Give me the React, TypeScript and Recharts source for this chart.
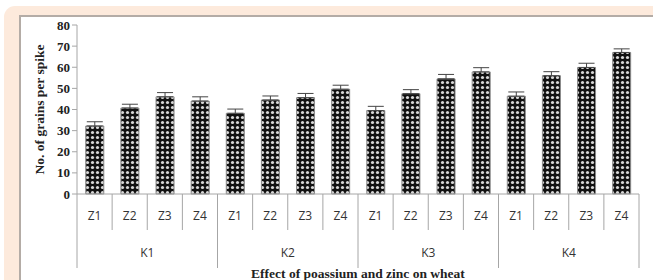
import { BarChart, Bar, XAxis, YAxis, ErrorBar, Label } from "recharts";

const zLevels = ["Z1", "Z2", "Z3", "Z4", "Z1", "Z2", "Z3", "Z4", "Z1", "Z2", "Z3", "Z4", "Z1", "Z2", "Z3", "Z4"];
const kLevels = ["K1", "K1", "K1", "K1", "K2", "K2", "K2", "K2", "K3", "K3", "K3", "K3", "K4", "K4", "K4", "K4"];
const grains = [32.2, 40.7, 46, 44, 38.2, 44.5, 45.6, 49.6, 39.5, 47.5, 54.5, 57.8, 46.3, 56, 59.9, 67];
const errors = [2, 1.8, 2, 2, 2, 1.9, 2, 1.9, 2, 1.9, 2.1, 2, 2, 1.9, 2, 1.7];
const yTicks = [0, 10, 20, 30, 40, 50, 60, 70, 80];

const data = zLevels.map((z, i) => ({
  z,
  k: kLevels[i],
  value: grains[i],
  err: [0, errors[i]],
}));

const W = 653;
const H = 280;
const PLOT_LEFT = 77;
const PLOT_RIGHT = 639;
const AXIS_Y = 194;
const HALF = (PLOT_RIGHT - PLOT_LEFT) / zLevels.length / 2;
const LINE = "#a6a6a6";

// draws the Z label plus the category / group divider lines
const ZTick = (props: any) => {
  const { x, payload, index } = props;
  const top = AXIS_Y;
  const rightLen = (index + 1) % 4 === 0 ? 74 : 36;
  return (
    <g>
      {index === 0 && <line x1={x - HALF} y1={top} x2={x - HALF} y2={top + 74} stroke={LINE} />}
      <line x1={x + HALF} y1={top} x2={x + HALF} y2={top + rightLen} stroke={LINE} />
      <text x={x} y={top + 26} textAnchor="middle" fontFamily="'Open Sans', sans-serif" fontSize={12} fill="#333">
        {payload.value}
      </text>
    </g>
  );
};

const KTick = (props: any) => {
  const { x, payload, index } = props;
  if (index % 4 !== 1) return null;
  return (
    <text x={x + HALF} y={AXIS_Y + 63} textAnchor="middle" fontFamily="'Open Sans', sans-serif" fontSize={12} fill="#333">
      {payload.value}
    </text>
  );
};

export default function App() {
  return (
    <div style={{ position: "absolute", left: 0, top: 0, width: W, height: H, background: "#fff", overflow: "hidden" }}>
      <div
        style={{
          position: "absolute",
          left: 4,
          top: 6,
          width: W + 20,
          height: H + 20,
          background: "#fdeadc",
          borderRadius: 11,
        }}
      />
      <div
        style={{
          position: "absolute",
          left: 19,
          top: 15,
          width: W,
          height: H,
          background: "#fff",
          borderLeft: "2px solid #b4aca6",
          borderTop: "2px solid #b4aca6",
        }}
      />
      <div style={{ position: "absolute", left: 0, top: 0 }}>
        <BarChart
          width={W}
          height={H}
          data={data}
          barCategoryGap="25%"
          margin={{ top: 25, right: W - PLOT_RIGHT, bottom: 0, left: PLOT_LEFT - 40 }}
        >
          <defs>
            <pattern id="dots" width="5" height="5" patternUnits="userSpaceOnUse">
              <rect width="5" height="5" fill="#111" />
              <circle cx="2.5" cy="2.5" r="1.6" fill="#d8d8d8" />
            </pattern>
          </defs>
          <YAxis
            width={40}
            domain={[0, 80]}
            ticks={yTicks}
            interval={0}
            stroke={LINE}
            tickSize={5}
            tick={{ fontFamily: "'Liberation Serif', serif", fontWeight: "bold", fontSize: 13, fill: "#222" }}
          >
            <Label
              value="No. of grains per spike"
              angle={-90}
              position="center"
              dx={-18}
              style={{ fontFamily: "'Liberation Serif', serif", fontWeight: "bold", fontSize: 13.5, fill: "#222", textAnchor: "middle" }}
            />
          </YAxis>
          <XAxis
            xAxisId="a"
            dataKey="z"
            height={36}
            interval={0}
            tickLine={false}
            stroke={LINE}
            tick={<ZTick />}
          />
          <XAxis
            xAxisId="b"
            dataKey="k"
            height={50}
            interval={0}
            axisLine={false}
            tickLine={false}
            tick={<KTick />}
          >
            <Label
              value="Effect of poassium and zinc on wheat"
              position="insideBottom"
              offset={2}
              style={{ fontFamily: "'Liberation Serif', serif", fontWeight: "bold", fontSize: 13.5, fill: "#222" }}
            />
          </XAxis>
          <Bar xAxisId="a" dataKey="value" fill="url(#dots)" stroke="#8a8a8a" strokeWidth={1} isAnimationActive={false}>
            <ErrorBar dataKey="err" width={8} stroke="#444" strokeWidth={1} />
          </Bar>
        </BarChart>
      </div>
    </div>
  );
}
